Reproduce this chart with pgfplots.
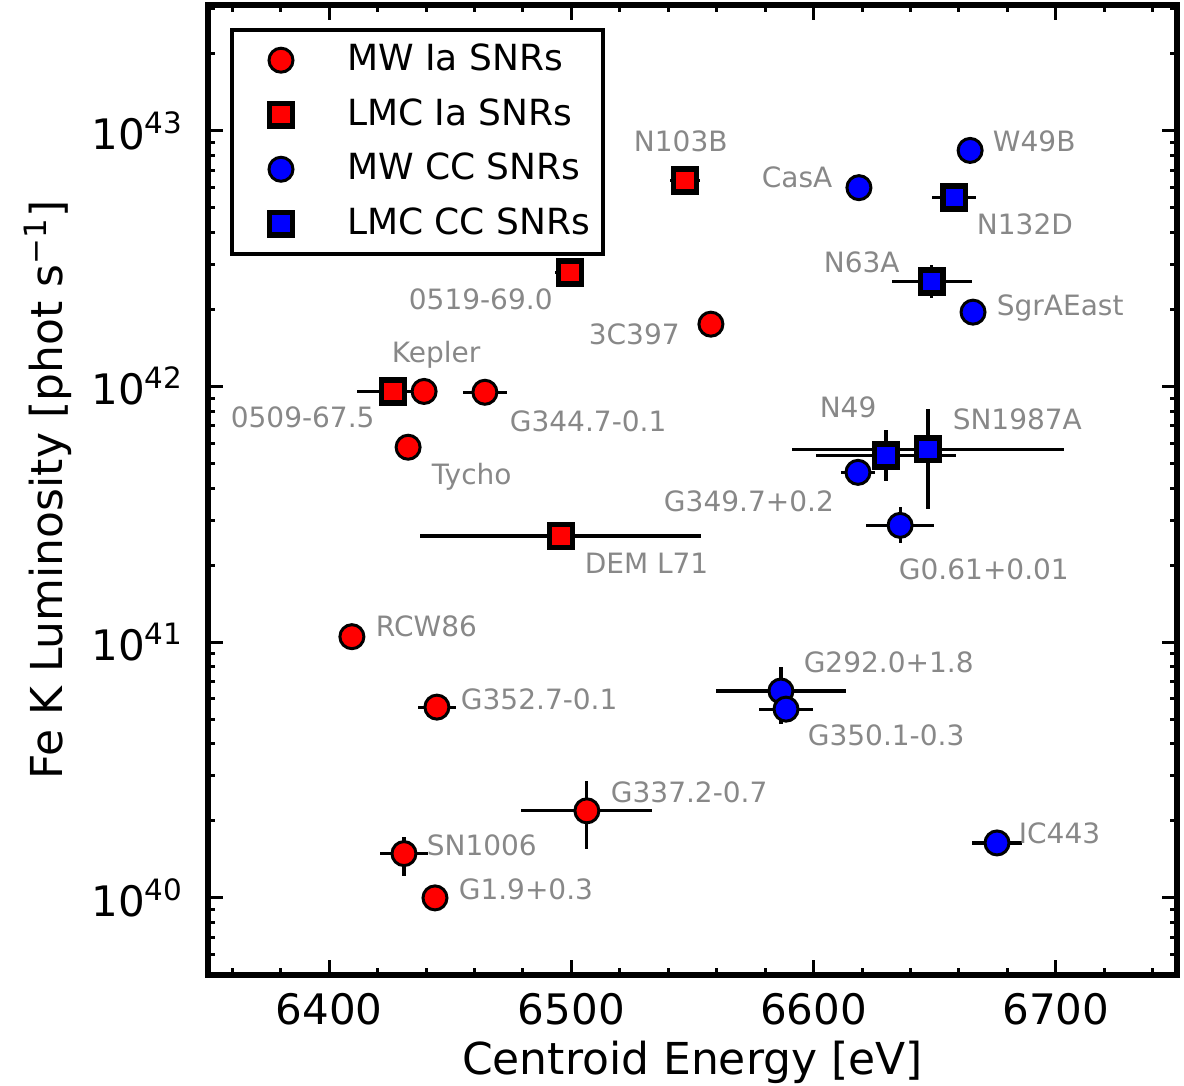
\documentclass[border=0pt]{standalone}
\usepackage{pgfplots}
\pgfplotsset{compat=1.18}
\usepackage{pgfplotstable}
\usepackage{fontspec}
\setmainfont{DejaVu Sans}
\definecolor{lbl}{RGB}{136,136,136}

% columns: centroid [eV], luminosity, x error, y error plus, y error minus
\pgfplotstableread{
x y xe yp ym
6439.2 9.55e41 0 0 0
6557.6 1.75e42 0 0 0
6432.6 5.78e41 0 0 0
6409.4 1.05e41 0 0 0
6430.9 1.49e40 10 0.24e40 0.27e40
6464.3 9.48e41 9 0 0
6444.5 5.57e40 8 0 0
6443.7 1.00e40 0 0 0
6506.4 2.19e40 27 0.68e40 0.63e40
}\mwIa

\pgfplotstableread{
x y xe yp ym
6546.9 6.38e42 6 0 0
6426.4 9.55e41 15 0 0
6499.4 2.79e42 6 0 0
6495.7 2.60e41 58 0 0
}\lmcIa

\pgfplotstableread{
x y xe yp ym
6664.6 8.36e42 0 0 0
6618.7 5.98e42 0 0 0
6665.8 1.95e42 0 0 0
6618.3 4.61e41 7 0 0
6635.7 2.86e41 14 0.50e41 0.42e41
6586.5 6.44e40 27 1.56e40 1.67e40
6588.6 5.47e40 11 0 0
6675.7 1.64e40 10.5 0 0
}\mwCC

\pgfplotstableread{
x y xe yp ym
6658.0 5.47e42 9 0 0
6648.8 2.57e42 16.5 0.41e42 0.35e42
6629.9 5.37e41 29 1.39e41 1.10e41
6647.2 5.68e41 56 2.46e41 2.36e41
}\lmcCC

\pgfplotsset{
  errs/.style={only marks, mark=none, forget plot,
    error bars/.cd, x dir=both, x explicit, y dir=both, y explicit,
    error mark=none, error bar style={draw=black, solid, line width=0.8pt}},
  circ/.style={only marks, mark=*, mark size=3pt,
    mark options={draw=black, fill=#1, line width=0.75pt}},
  sqr/.style={only marks, mark=square*, mark size=2.85pt,
    mark options={draw=black, fill=#1, line width=1.4pt}},
}
\tikzset{lab/.style={anchor=base west, inner sep=0pt, text=lbl, font=\fontsize{7}{8}\selectfont}}

\begin{document}
\begin{tikzpicture}
\begin{axis}[
  at={(0,0)}, anchor=south west,
  scale only axis, width=242.25pt, height=242.5pt,
  xmin=6350, xmax=6750,
  ymode=log, ymin=5e39, ymax=3.1e43,
  xtick={6400,6500,6600,6700},
  xticklabels={6400,6500,6600,6700},
  minor xtick={6360,6380,6420,6440,6460,6480,6520,6540,6560,6580,6620,6640,6660,6680,6720,6740},
  ytick={1e40,1e41,1e42,1e43},
  yticklabels={10\textsuperscript{40},10\textsuperscript{41},10\textsuperscript{42},10\textsuperscript{43}},
  minor ytick={6e39,7e39,8e39,9e39,2e40,3e40,4e40,5e40,6e40,7e40,8e40,9e40,2e41,3e41,4e41,5e41,6e41,7e41,8e41,9e41,2e42,3e42,4e42,5e42,6e42,7e42,8e42,9e42,2e43,3e43},
  tick align=inside,
  major tick length=3.75pt, minor tick length=1.75pt,
  tick style={black, line width=0.75pt},
  axis line style={line width=1.5pt},
  ticklabel style={font=\fontsize{10.5}{12}\selectfont},
  xticklabel style={anchor=center, yshift=-8.5pt, inner sep=0pt},
  yticklabel style={anchor=east, xshift=-5.75pt, inner sep=0pt},
  xlabel={Centroid Energy [eV]},
  ylabel={Fe K Luminosity [phot s\textsuperscript{−1}]},
  label style={font=\fontsize{11}{13}\selectfont},
  xlabel style={at={(axis description cs:0.5,-0.0897)}, anchor=center},
  ylabel style={at={(axis description cs:-0.165,0.5)}, anchor=center},
  legend style={at={(axis description cs:0.0227,0.9763)}, anchor=north west,
    draw=black, line width=1pt, fill=white,
    inner xsep=1.25pt, inner ysep=1.5pt, row sep=1.45pt,
    font=\fontsize{9}{10}\selectfont},
  legend cell align=left,
  legend image code/.code={\path (0pt,0pt) (24.5pt,0pt); \draw[#1] plot coordinates {(10.5pt,0pt)};},
]
% legend entries
\addlegendimage{circ=red}
\addlegendentry{MW Ia SNRs}
\addlegendimage{sqr=red}
\addlegendentry{LMC Ia SNRs}
\addlegendimage{circ=blue}
\addlegendentry{MW CC SNRs}
\addlegendimage{sqr=blue}
\addlegendentry{LMC CC SNRs}

% error bars first, so the markers sit on top
\addplot[errs] table[x=x, y=y, x error=xe, y error plus=yp, y error minus=ym] {\mwIa};
\addplot[errs] table[x=x, y=y, x error=xe, y error plus=yp, y error minus=ym] {\lmcIa};
\addplot[errs] table[x=x, y=y, x error=xe, y error plus=yp, y error minus=ym] {\mwCC};
\addplot[errs] table[x=x, y=y, x error=xe, y error plus=yp, y error minus=ym] {\lmcCC};

% markers
\addplot[circ=red, forget plot] table[x=x, y=y] {\mwIa};
\addplot[sqr=red, forget plot] table[x=x, y=y] {\lmcIa};
\addplot[circ=blue, forget plot] table[x=x, y=y] {\mwCC};
\addplot[sqr=blue, forget plot] table[x=x, y=y] {\lmcCC};

% remnant names
\node[lab] at (axis cs:6525.5,8.28e42) {N103B};
\node[lab] at (axis cs:6578.3,5.98e42) {CasA};
\node[lab] at (axis cs:6673.7,8.28e42) {W49B};
\node[lab] at (axis cs:6667.1,3.92e42) {N132D};
\node[lab] at (axis cs:6603.9,2.79e42) {N63A};
\node[lab] at (axis cs:6675.3,1.89e42) {SgrAEast};
\node[lab] at (axis cs:6506.9,1.46e42) {3C397};
\node[lab] at (axis cs:6425.6,1.24e42) {Kepler};
\node[lab] at (axis cs:6359.1,6.92e41) {0509-67.5};
\node[lab] at (axis cs:6474.3,6.67e41) {G344.7-0.1};
\node[lab] at (axis cs:6442.1,4.14e41) {Tycho};
\node[lab] at (axis cs:6432.6,2.00e42) {0519-69.0};
\node[lab] at (axis cs:6505.2,1.85e41) {DEM L71};
\node[lab] at (axis cs:6537.9,3.25e41) {G349.7+0.2};
\node[lab] at (axis cs:6602.2,7.57e41) {N49};
\node[lab] at (axis cs:6657.1,6.79e41) {SN1987A};
\node[lab] at (axis cs:6634.9,1.76e41) {G0.61+0.01};
\node[lab] at (axis cs:6419.0,1.05e41) {RCW86};
\node[lab] at (axis cs:6454.1,5.47e40) {G352.7-0.1};
\node[lab] at (axis cs:6516.0,2.37e40) {G337.2-0.7};
\node[lab] at (axis cs:6440.0,1.47e40) {SN1006};
\node[lab] at (axis cs:6453.2,9.90e39) {G1.9+0.3};
\node[lab] at (axis cs:6595.6,7.64e40) {G292.0+1.8};
\node[lab] at (axis cs:6597.3,3.93e40) {G350.1-0.3};
\node[lab] at (axis cs:6684.4,1.63e40) {IC443};
\end{axis}
\pgfresetboundingbox
\path[use as bounding box] (-52pt,-27.5pt) rectangle (244pt,243.75pt);
\end{tikzpicture}
\end{document}
